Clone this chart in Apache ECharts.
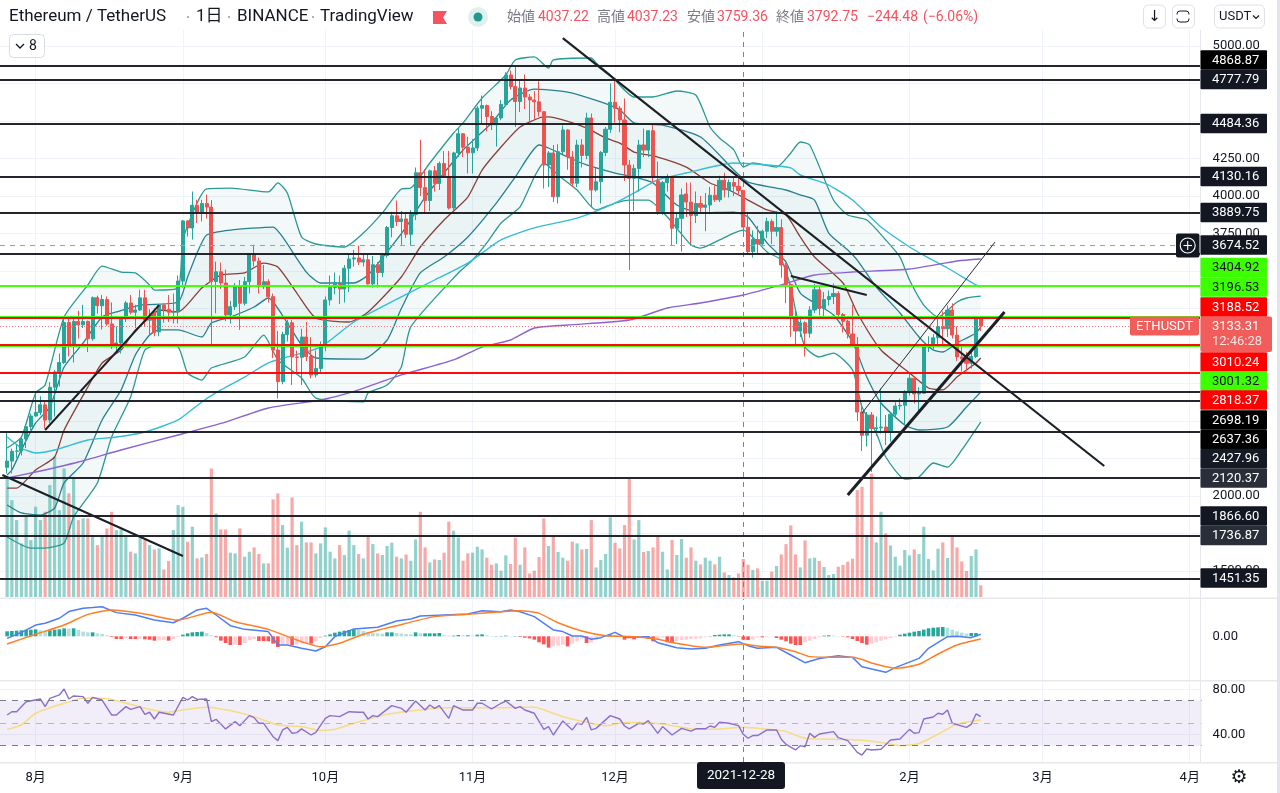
<!DOCTYPE html>
<html><head><meta charset="utf-8">
<style>html,body{margin:0;padding:0;background:#fff}#c{width:1280px;height:793px}</style>
<script src="https://cdn.jsdelivr.net/npm/echarts@6/dist/echarts.min.js"></script>
</head><body><div id="c"></div>
<script>
// dates: one leading empty day so the plot reaches the left edge
const startDate = '2021-07-25', dayCount = 253;
const blackLevels = [4868.87,4777.79,4484.36,4130.16,3889.75,3613,2698.19,2637.36,2427.96,2120.37,1866.60,1736.87,1451.35];
const greenLevels = [3404.92,3196.53,3001.32];
const redLevels = [3188.52,3010.24,2818.37];
const lastPrice = 3133.31, crossPrice = 3674.52, crossDate = '2021-12-28';
// [open, close, low, high] 2021-07-26 .. 2022-02-16
const ohlc = [
[2191,2233,2150,2429],[2233,2298,2150,2316],[2298,2300,2254,2344],[2300,2380,2270,2400],[2380,2462,2320,2470],[2462,2533,2440,2550],
[2533,2557,2530,2698],[2557,2608,2540,2665],[2608,2506,2450,2630],[2506,2725,2485,2760],[2725,2827,2530,2840],[2827,2890,2730,2950],
[2890,3157,2880,3180],[3157,3012,2930,3185],[3012,3163,2890,3185],[3163,3141,3050,3235],[3141,3164,3120,3275],[3164,3048,2960,3170],
[3048,3322,3035,3330],[3322,3268,3215,3335],[3268,3310,3110,3340],[3310,3147,3135,3330],[3147,3012,2980,3290],[3012,3020,2950,3130],
[3020,3182,2950,3188],[3182,3287,3160,3300],[3287,3225,3210,3340],[3225,3240,3120,3275],[3240,3321,3235,3375],[3321,3172,3130,3375],
[3172,3190,3080,3245],[3225,3090,3065,3250],[3094,3274,3065,3280],[3274,3244,3155,3285],[3244,3225,3160,3340],[3225,3228,3150,3350],
[3228,3433,3150,3470],[3433,3834,3390,3840],[3834,3787,3730,3840],[3787,3938,3710,4030],[3938,3888,3820,3975],[3888,3950,3830,3975],
[3950,3926,3850,4010],[3926,3430,3007,3973],[3430,3495,3218,3562],[3495,3420,3380,3556],[3420,3207,3165,3510],[3207,3262,3150,3300],
[3262,3400,3240,3420],[3400,3285,3107,3440],[3285,3429,3270,3460],[3429,3613,3350,3620],[3613,3567,3530,3675],[3567,3400,3350,3590],
[3400,3429,3380,3540],[3429,3329,3290,3445],[3329,2973,2920,3350],[2973,2762,2650,3100],[2762,3077,2745,3095],[3077,3155,3030,3175],
[3155,2927,2740,3175],[2927,2925,2815,2970],[2925,3060,2740,3115],[3060,2930,2900,3160],[2930,2807,2785,3060],[2807,2850,2790,2970],
[2850,3000,2820,3030],[3000,3307,2965,3330],[3307,3390,3270,3470],[3390,3417,3345,3490],[3417,3380,3280,3470],[3380,3518,3290,3540],
[3518,3580,3360,3620],[3580,3587,3530,3640],[3587,3560,3540,3670],[3560,3575,3530,3620],[3575,3414,3410,3610],[3414,3542,3390,3600],
[3542,3490,3390,3560],[3490,3604,3460,3620],[3604,3790,3590,3800],[3790,3868,3725,3895],[3868,3830,3800,3970],[3830,3847,3675,3900],
[3847,3745,3720,3890],[3745,3877,3670,3905],[3877,4155,3840,4190],[4155,4056,4000,4375],[4056,3970,3885,4180],[3970,4168,3900,4175],
[4168,4083,4030,4200],[4083,4217,4040,4230],[4217,4130,4120,4300],[4130,3920,3910,4300],[3920,4287,3905,4295],[4287,4415,4260,4460],
[4415,4325,4260,4420],[4325,4288,4150,4395],[4288,4320,4150,4380],[4320,4585,4300,4600],[4585,4603,4480,4670],[4603,4530,4430,4610],
[4530,4475,4440,4565],[4475,4520,4330,4530],[4520,4610,4505,4640],[4610,4807,4600,4825],[4807,4730,4710,4837],[4730,4630,4460,4868],
[4630,4720,4560,4780],[4720,4660,4580,4810],[4660,4640,4500,4680],[4640,4628,4510,4700],[4628,4562,4530,4765],[4562,4207,4050,4565],
[4207,4287,4060,4300],[4287,3995,3960,4340],[3995,4295,3950,4345],[4295,4440,4280,4470],[4440,4260,4175,4445],[4260,4085,4060,4300],
[4085,4340,4060,4375],[4340,4270,4190,4380],[4270,4520,4245,4555],[4520,4040,3925,4550],[4040,4095,4030,4190],[4095,4290,3950,4300],
[4290,4445,4265,4460],[4445,4625,4420,4750],[4625,4585,4490,4780],[4585,4507,4425,4600],[4507,4207,4100,4650],[4207,4118,3507,4240],
[4118,4184,3900,4210],[4184,4340,4030,4375],[4340,4306,4260,4450],[4306,4435,4260,4440],[4435,4130,4090,4484],[4102,3896,3875,4230],
[3896,4089,3875,4100],[4089,4130,4030,4145],[4130,3785,3673,4130],[3785,3851,3680,3885],[3851,4007,3630,4050],[4014,3960,3860,4090],
[3960,3870,3680,4090],[3870,3950,3820,4030],[3950,3925,3890,4000],[3925,3940,3765,4020],[3940,4005,3895,4060],[4005,3975,3960,4070],
[3975,4105,3960,4135],[4105,4040,3990,4155],[4040,4090,3990,4110],[4090,4065,4000,4120],[4065,4037,4010,4125],[4037.22,3792.75,3759.36,4037.23],
[3792,3629,3610,3880],[3629,3710,3590,3770],[3710,3680,3620,3800],[3680,3765,3675,3775],[3765,3830,3720,3855],[3830,3765,3680,3845],
[3765,3790,3730,3900],[3790,3540,3455,3845],[3540,3410,3285,3555],[3410,3195,3060,3415],[3195,3100,3000,3240],[3100,3155,3060,3200],
[3155,3085,2930,3165],[3085,3240,3055,3265],[3240,3375,3220,3415],[3375,3250,3205,3395],[3250,3310,3200,3360],[3310,3330,3270,3370],
[3330,3350,3280,3417],[3350,3210,3190,3365],[3210,3165,3090,3220],[3165,3080,3050,3175],[3080,3005,3000,3273],[3005,2560,2500,3060],
[2560,2405,2300,2620],[2405,2540,2330,2560],[2540,2450,2160,2560],[2450,2455,2400,2530],[2455,2460,2417,2717],[2460,2425,2340,2540],
[2425,2545,2362,2560],[2545,2600,2530,2625],[2600,2605,2575,2650],[2605,2690,2473,2705],[2690,2785,2670,2815],[2785,2680,2617,2800],
[2680,2685,2562,2725],[2685,2995,2680,3000],[2995,3005,2960,3065],[3005,3055,2975,3080],[3055,3130,3000,3190],[3130,3115,3010,3230],
[3115,3240,3060,3270],[3240,3073,3050,3285],[3073,2927,2900,3130],[2927,2915,2830,3010],[2915,2885,2830,2960],[2885,2930,2850,2975],
[2930,3184,2920,3190],[3184,3133.31,3100,3200]];
const volumes = [1202,969,769,536,803,569,902,769,852,1119,1402,869,1285,1036,1202,769,786,786,619,519,619,686,852,669,676,603,453,436,603,569,
519,476,486,276,360,669,919,902,553,703,386,396,430,1285,836,676,676,443,436,686,403,453,496,430,336,336,976,1036,719,493,
996,519,753,546,546,436,536,696,453,386,519,420,663,519,430,386,619,529,436,420,510,543,403,386,
426,363,576,852,496,346,376,370,443,753,663,596,363,436,443,503,476,393,323,336,263,416,330,593,323,496,236,263,400,786,
510,616,450,393,363,553,536,476,480,769,296,370,430,796,543,486,719,1185,576,769,450,460,496,603,453,276,569,420,579,393,496,363,
326,393,363,326,403,246,220,196,236,380,323,270,286,163,163,253,310,426,529,716,426,296,566,386,393,360,300,220,230,303,
320,353,383,1069,1102,619,1235,546,852,636,516,403,313,470,416,476,430,703,380,266,483,546,390,613,496,356,260,410,476,117];
// indicators: [day number, value]
const bbUpperOuter = [[0,2320],[3,2393],[6,2687],[8,2740],[12,3193],[17,3407],[20,3533],[24,3493],[27,3487],[30,3407],[31,3373],[36,3387],[37,3707],[40,3953],[42,4047],[47,4053],[55,4027],[57,4087],[59,4020],[62,3727],[65,3680],[71,3660],[75,3753],[79,3887],[83,4047],[85,4053],[89,4220],[94,4420],[96,4487],[100,4653],[105,4807],[107,4907],[111,4927],[114,4853],[115,4907],[123,4920],[124,4887],[127,4807],[132,4660],[136,4660],[141,4700],[145,4673],[148,4460],[150,4387],[153,4307],[155,4193],[157,4220],[162,4193],[165,4287],[167,4360],[169,4340],[174,3973],[177,3873],[181,3840],[185,3707],[188,3593],[190,3440],[193,3273],[196,3193],[200,3293],[202,3320],[205,3333]];
const bbUpperInner = [[0,2140],[1,2173],[3,2307],[6,2487],[9,2593],[12,2860],[16,3020],[20,3193],[23,3227],[28,3273],[36,3293],[38,3460],[40,3620],[42,3740],[47,3773],[56,3793],[58,3727],[63,3493],[66,3420],[73,3420],[76,3473],[80,3627],[84,3793],[88,3993],[93,4193],[96,4307],[102,4487],[106,4640],[111,4713],[118,4693],[125,4627],[129,4573],[132,4487],[138,4473],[146,4393],[153,4173],[156,4093],[164,4040],[167,4007],[170,3973],[173,3753],[177,3640],[179,3573],[183,3393],[188,3220],[192,3060],[195,2973],[197,2960],[200,3020],[204,3087],[205,3127]];
const bbBasis = [[0,2053],[2,2053],[6,2173],[10,2260],[12,2440],[17,2727],[20,2887],[24,2973],[27,3107],[30,3187],[32,3240],[36,3227],[41,3387],[45,3473],[50,3487],[54,3553],[57,3527],[61,3353],[65,3187],[72,3160],[76,3227],[83,3460],[87,3660],[92,3840],[97,3993],[100,4173],[104,4327],[108,4460],[112,4520],[114,4527],[117,4507],[122,4453],[126,4387],[129,4353],[132,4293],[137,4260],[143,4193],[148,4087],[152,4040],[156,3973],[160,3907],[164,3873],[167,3727],[170,3593],[176,3420],[179,3220],[184,2973],[190,2820],[194,2720],[197,2707],[200,2793],[204,2887],[205,2920]];
const bbLowerInner = [[0,1940],[3,1887],[7,1873],[10,1920],[12,2087],[16,2220],[20,2507],[24,2707],[27,2940],[30,3073],[32,3107],[36,3107],[41,3060],[43,3153],[47,3193],[52,3260],[55,3320],[59,3153],[62,3007],[65,2920],[75,2913],[80,3040],[83,3250],[87,3487],[92,3593],[97,3727],[103,3953],[107,4127],[112,4340],[114,4320],[118,4260],[122,4207],[128,4153],[132,4127],[136,4087],[141,3940],[146,3887],[153,3893],[156,3860],[160,3687],[163,3593],[164,3560],[167,3353],[170,3287],[174,3207],[178,3027],[181,2793],[184,2620],[189,2473],[192,2440],[198,2460],[202,2593],[205,2693]];
const bbLowerOuter = [[0,1727],[5,1653],[8,1653],[12,1687],[14,1860],[19,2087],[22,2393],[26,2660],[29,2973],[32,3007],[36,2993],[38,2820],[41,2773],[43,2853],[50,2927],[54,3073],[57,2907],[62,2787],[65,2653],[75,2627],[76,2687],[80,2740],[83,2860],[85,3127],[95,3487],[98,3573],[101,3687],[104,3820],[108,3927],[111,4127],[113,4220],[116,4140],[120,4040],[124,3907],[128,3953],[131,3973],[135,3973],[139,3860],[144,3673],[146,3653],[150,3707],[153,3753],[155,3773],[160,3627],[163,3573],[165,3393],[166,3240],[168,2993],[171,2927],[174,2953],[178,2840],[180,2593],[183,2420],[185,2260],[189,2113],[192,2127],[195,2220],[198,2193],[201,2307],[205,2493]];
const maCyan = [[0,2393],[3,2320],[6,2287],[10,2307],[17,2373],[23,2393],[29,2427],[36,2507],[41,2627],[45,2707],[50,2793],[55,2887],[59,2927],[66,2993],[73,3160],[83,3327],[90,3440],[97,3553],[104,3707],[111,3787],[120,3853],[128,3953],[132,4020],[137,4107],[143,4153],[153,4220],[160,4207],[165,4187],[167,4140],[173,4073],[178,3973],[184,3793],[190,3660],[194,3587],[198,3520],[204,3407],[205,3393]];
const maPurple = [[0,2120],[6,2160],[15,2227],[24,2307],[36,2407],[46,2493],[55,2587],[66,2640],[72,2687],[83,2807],[94,2907],[100,2993],[106,3040],[111,3120],[118,3140],[131,3173],[139,3253],[146,3287],[155,3340],[163,3407],[170,3473],[178,3493],[190,3513],[200,3567],[205,3580]];
const trendA = [[116.8,5053],[230.8,2200]], trendB = [[-0.8,2140],[36.8,1600]], trendC = [[8,2440],[32.2,3273]], trendD = [[164.5,3467],[180.8,3340]], trendE = [[180.2,2553],[207.7,3693]], trendF = [[177.1,2007],[209.8,3227]];
const macdLine = [[0,-14],[3,27],[6,76],[8,88],[11,122],[13,167],[16,189],[18,194],[20,200],[23,160],[27,144],[31,110],[35,92],[37,122],[40,178],[42,189],[44,144],[47,72],[50,47],[55,32],[57,-58],[59,-58],[62,-81],[65,-99],[67,-70],[69,-2],[73,50],[78,61],[82,104],[85,117],[87,137],[92,144],[97,151],[100,173],[104,166],[106,178],[108,166],[111,133],[115,43],[117,32],[119,2],[121,2],[123,-20],[125,-9],[128,27],[130,-7],[135,-2],[137,-43],[141,-77],[144,-86],[147,-81],[150,-58],[154,-36],[156,-63],[158,-81],[162,-74],[165,-126],[168,-178],[171,-149],[175,-131],[178,-142],[180,-205],[185,-243],[187,-211],[192,-149],[194,-81],[198,-2],[200,0],[203,-9],[205,14]];
const macdSignal = [[0,-52],[6,14],[12,77],[17,148],[22,178],[29,151],[36,110],[43,162],[48,99],[55,47],[61,-25],[66,-70],[70,-47],[75,14],[82,72],[90,133],[97,149],[104,166],[108,173],[112,155],[116,92],[121,36],[126,4],[132,-2],[137,-20],[141,-47],[147,-74],[150,-65],[155,-52],[158,-65],[162,-74],[166,-104],[169,-137],[174,-142],[178,-142],[183,-189],[187,-216],[192,-189],[196,-119],[200,-58],[205,-18]];
const macdHist = [15,16,17,18,19,20,21,18,17,18,20,21,24,23,24,20,14,12,12,9,7,3,-2,-8,-8,-6,-8,-8,-7,-9,-10,-13,-12,-11,-13,-8,-2,5,9,12,13,14,10,3,-3,-13,-20,-26,-25,-26,-20,-12,-8,-14,-14,-15,-22,-32,-26,-24,-26,-24,-22,-20,-22,-15,-5,2,6,11,14,17,19,21,20,16,11,10,9,8,12,12,10,8,7,6,12,9,9,9,9,10,3,2,2,4,3,3,2,5,6,3,1,1,1,2,1,1,-2,-4,-6,-10,-18,-24,-34,-30,-28,-25,-30,-22,-15,-7,-20,-19,-10,-3,3,5,4,-2,-10,-8,-9,-4,-3,-8,-15,-8,-4,-18,-18,-14,-11,-10,-8,-7,-6,-3,1,4,5,6,6,3,-1,-10,-11,-10,-3,-3,-2,-1,-5,-10,-15,-22,-26,-26,-18,-13,-8,-3,2,3,2,1,-1,-3,-8,-14,-20,-25,-22,-18,-13,-9,-5,-2,5,8,11,14,16,20,24,26,27,28,26,20,15,11,8,10,10];
const rsiLine = [[0,57.3],[1,60.2],[2,60.2],[4,69.1],[7,71.5],[8,64.7],[9,72.1],[11,75.1],[12,80.4],[13,71.5],[14,74.2],[16,73.6],[17,67.7],[18,73],[20,70.6],[22,57.3],[23,57.3],[25,64.7],[26,62.3],[28,64.7],[29,57.9],[30,59.7],[31,53.7],[32,59.7],[35,57.3],[37,73],[38,70.6],[39,73.6],[40,71.2],[42,71.5],[43,51.4],[44,53.4],[46,44.9],[48,51.4],[49,47.8],[51,56.7],[52,54.9],[53,49.9],[54,49.9],[56,38],[57,34.5],[58,44],[59,46.3],[60,41],[61,41.6],[62,44.9],[64,39.5],[65,41.9],[67,54.3],[68,56.7],[70,55.8],[72,60.2],[74,59.7],[75,59.7],[76,53.7],[77,56.7],[78,55.8],[81,65.6],[83,63.2],[84,59.7],[86,69.7],[88,61.7],[89,66.2],[90,63.2],[91,65.6],[93,54.3],[94,65.6],[96,61.7],[98,61.7],[99,67.7],[100,67.7],[102,62.6],[104,67.7],[105,69.7],[107,63.2],[108,64.7],[109,61.7],[111,58.8],[113,44.5],[114,46.9],[115,39.5],[117,52],[119,44],[120,49.9],[121,49],[122,55.2],[123,44],[124,45.4],[127,56.7],[129,53.7],[130,47.5],[131,44.9],[133,49.9],[134,49.3],[135,52.3],[137,41],[138,47],[140,39.5],[142,45.4],[144,43],[145,45],[147,45],[148,47.5],[149,46.3],[150,50.8],[152,49.9],[154,47.8],[155,40.1],[156,36.6],[157,39],[158,39],[160,44],[162,44],[163,35.7],[164,31.2],[166,26.2],[167,30],[168,29.1],[169,41],[170,37.4],[171,40.4],[174,42.5],[175,37.1],[177,34.5],[179,24.1],[180,21.7],[181,27],[182,26.2],[184,26.8],[186,35],[188,36],[190,44.5],[191,41],[192,41.6],[193,53.7],[195,55.5],[196,58.8],[197,57.9],[198,61.7],[199,49.9],[202,46.3],[203,49],[204,58.2],[205,55.8]];
const rsiAverage = [[0,44.6],[3,48.4],[6,58.8],[12,67.7],[16,72.1],[20,72.1],[24,69.1],[29,63.2],[34,59.7],[37,61.7],[42,64.1],[48,60.2],[52,55.8],[57,48.4],[62,47],[66,43.4],[69,44.6],[73,49.9],[80,57.9],[85,60.8],[92,63.8],[99,63.8],[104,63.8],[108,64.1],[111,64.1],[115,58.8],[117,55.8],[122,50.8],[126,47.8],[130,50.5],[138,49.3],[144,44.9],[149,44.6],[155,46.3],[160,44.6],[164,42.5],[168,36.6],[177,35.4],[183,33.6],[188,30],[192,32],[197,42.5],[200,49.3],[205,52.9]];
const priceTicks = [1500,1750,2000,2250,2500,2750,3000,3250,3500,3750,4000,4250,4500,4750,5000];
const priceLabels = [1500,2000,3750,4000,4250,5000];
const rsiTicks = [40,80], monthFirsts = ['08-01','09-01','10-01','11-01','12-01','01-01','02-01','03-01','04-01'];
const priceTags = [[60,'4868.87','#000','#fff'],[79.5,'4777.79','#131722','#fff'],[123.5,'4484.36','#131722','#fff'],[176.5,'4130.16','#131722','#fff'],[212.5,'3889.75','#131722','#fff'],[245,'3674.52','#131722','#fff'],[267.5,'3404.92','#3cff00','#131722'],[287,'3196.53','#3cff00','#131722'],[307,'3188.52','#ff0000','#fff'],[362,'3010.24','#ff0000','#fff'],[381,'3001.32','#3cff00','#131722'],[400,'2818.37','#ff0000','#fff'],[420,'2698.19','#000','#fff'],[439.5,'2637.36','#000','#fff'],[458.5,'2427.96','#161a25','#fff'],[478,'2120.37','#2a2e39','#fff'],[516,'1866.60','#131722','#fff'],[535.5,'1736.87','#2a2e39','#fff'],[578,'1451.35','#131722','#fff']];

const FONT = 'Roboto';
const UP = '#26a69a', DOWN = '#ef5350';
const pad2 = n => String(n).padStart(2,'0');
const categories = [];
{ const d = new Date(startDate+'T00:00:00Z');
  for (let i=0;i<dayCount;i++){ categories.push(d.getUTCFullYear()+'-'+pad2(d.getUTCMonth()+1)+'-'+pad2(d.getUTCDate())); d.setUTCDate(d.getUTCDate()+1);} }
const isMonth = (idx,val)=> monthFirsts.includes(val.slice(5));
const pts = a => a.map(([i,v])=>[i+1,v]);
const line = (name,a,color,width,extra,axis) => Object.assign({type:'line',name,data:pts(a),xAxisIndex:axis?axis[0]:0,yAxisIndex:axis?axis[1]:0,showSymbol:false,symbol:'none',silent:true,lineStyle:{color,width},z:3,animation:false},extra||{});
const band = (upper,lower,fill)=>({type:'custom',xAxisIndex:0,yAxisIndex:0,silent:true,z:1,data:[[upper[0][0]+1,upper[0][1]]],encode:{x:0,y:1},clip:true,
  renderItem:(p,api)=>({type:'polygon',shape:{points:upper.concat(lower.slice().reverse()).map(([i,v])=>api.coord([i+1,v]))},style:{fill},silent:true})});
const trend = (a,width,color)=>line('trend',a,color||'#1d1f27',width,{z:7});
const hl = (vals,color,width)=>({type:'line',data:[],xAxisIndex:0,yAxisIndex:0,z:6,silent:true,markLine:{silent:true,symbol:'none',z:6,animation:false,label:{show:false},lineStyle:{color,width,type:'solid',opacity:.95},data:vals.map(v=>({yAxis:v}))}});
const vCross = (xi,yi)=>({type:'line',data:[],xAxisIndex:xi,yAxisIndex:yi,z:8,silent:true,markLine:{silent:true,symbol:'none',animation:false,label:{show:false},lineStyle:{color:'#758696',width:1,type:[5,5]},data:[{xAxis:crossDate}]}});

const gridLineColor = '#f0f3fa';
const xBase = {type:'category',data:categories,boundaryGap:true,axisLine:{show:false},axisTick:{show:false},
  splitLine:{show:true,alignWithLabel:true,interval:isMonth,lineStyle:{color:gridLineColor,width:1}},axisLabel:{show:false}};
const L = -3.44, W = 253*4.763;

const T = (x,y,text,color,size,extra)=>({type:'text',x,y,z:100,silent:true,style:Object.assign({text,fill:color,font:(size||14)+'px '+FONT+', "Noto Sans CJK JP"',textVerticalAlign:'middle'},extra||{})});
const R = (x,y,w,h,fill,r,stroke)=>({type:'rect',x,y,z:99,silent:true,shape:{x:0,y:0,width:w,height:h,r:r||0},style:{fill:fill||'#fff',stroke:stroke||null,lineWidth:stroke?1:0}});
const G = [];
// pane separators, right strip
G.push(R(0,597.5,1277,1.5,'#e6e8ee'),R(0,680,1277,1.5,'#e6e8ee'),R(0,762,1277,1.5,'#e6e8ee'),R(1200,30,1,733,'#e6e8ee'),R(1277,0,3,793,'#e3e5ee'));
// header
G.push(R(0,0,1277,29,'#fff'));
G.push(T(9,17,'Ethereum / TetherUS','#131722',17),T(196,17,'1日','#131722',17),T(237,17,'BINANCE','#131722',17),T(320,17,'TradingView','#131722',17));
[188,229,313].forEach(x=>G.push({type:'circle',z:100,silent:true,shape:{cx:x,cy:17,r:1},style:{fill:'#9598a1'}}));
G.push({type:'polygon',z:100,silent:true,shape:{points:[[433,11],[447,11],[443,17.5],[447,24],[433,24]]},style:{fill:'#f7525f'}});
G.push({type:'circle',z:100,silent:true,shape:{cx:478,cy:17,r:10},style:{fill:'#dff1ef'}},{type:'circle',z:100,silent:true,shape:{cx:478,cy:17,r:4.5},style:{fill:'#1f9a8c'}});
const GR='#787b86', RD='#f7525f';
G.push(T(507,17,'始値',GR),T(538,17,'4037.22',RD),T(597,17,'高値',GR),T(627,17,'4037.23',RD),T(687,17,'安値',GR),T(717,17,'3759.36',RD),T(776,17,'終値',GR),T(807,17,'3792.75',RD),T(867,17,'−244.48',RD),T(923,17,'(−6.06%)',RD));
// legend toggle
G.push(R(9.5,34.5,35,23,'#fff',4,'#d9dce5'),{type:'polyline',z:100,silent:true,shape:{points:[[16,44],[20,48],[24,44]]},style:{stroke:'#131722',lineWidth:1.3,fill:null}},T(29,46,'8','#131722',14));
// buttons
G.push(R(1143.5,5,22,23,'#fff',5,'#dfe1e8'),T(1154.5,17,'↓','#131722',15,{textAlign:'center',font:'15px "DejaVu Sans"'}));
G.push(R(1172.5,5,22,23,'#fff',5,'#dfe1e8'),R(1177,11,12,11,'#fff',3,'#131722'),R(1175,14.5,16,4,'#fff'));
G.push(R(1207,0,62,30,'#fff'),R(1214.5,5,50,23,'#fff',5,'#dfe1e8'),T(1219,17,'USDT','#131722',13),{type:'polyline',z:100,silent:true,shape:{points:[[1253,15.5],[1256,18.5],[1259,15.5]]},style:{stroke:'#131722',lineWidth:1.2,fill:null}});
// price tags
priceTags.forEach(([y,t,bg,fg])=>{G.push(R(1200.5,y-9.7,66.5,19.4,bg,1),T(1212,y+.5,t,fg,13));});
// current price tag + symbol
G.push(R(1130,316.5,69,19,'#f05d5a',2),T(1164.5,326.5,'ETHUSDT','#fff',13,{textAlign:'center'}));
G.push(R(1200.5,316.5,71.5,35.5,'#f05d5a',2),T(1212,326.5,'3133.31','#fff',13),T(1212,342,'12:46:28','#fde0df',13));
// crosshair add button
G.push(R(1176,233.5,23.5,24,'#131722',2),{type:'circle',z:101,silent:true,shape:{cx:1187.7,cy:245.5,r:7.5},style:{fill:null,stroke:'#fff',lineWidth:1.1}},
 {type:'line',z:101,silent:true,shape:{x1:1183.5,y1:245.5,x2:1192,y2:245.5},style:{stroke:'#fff',lineWidth:1.1}},{type:'line',z:101,silent:true,shape:{x1:1187.7,y1:241,x2:1187.7,y2:250},style:{stroke:'#fff',lineWidth:1.1}});
// date tag, gear
G.push(R(697,762,88,27,'#131722',3),T(741,776,crossDate,'#fff',13.5,{textAlign:'center'}));
G.push(T(1239,778,'⚙','#131722',19,{textAlign:'center',font:'19px "DejaVu Sans"'}));

const chart = echarts.init(document.getElementById('c'),null,{renderer:'canvas',width:1280,height:793});
chart.setOption({
  animation:false,backgroundColor:'#fff',
  textStyle:{fontFamily:FONT},
  grid:[{left:L,width:W,top:30,height:567},{left:L,width:W,top:599,height:81},{left:L,width:W,top:682,height:80}],
  xAxis:[Object.assign({},xBase,{gridIndex:0}),Object.assign({},xBase,{gridIndex:1}),
    Object.assign({},xBase,{gridIndex:2,axisLabel:{show:true,interval:isMonth,margin:9,fontSize:13,color:'#131722',fontFamily:FONT+', "Noto Sans CJK JP"',formatter:v=>parseInt(v.slice(5,7),10)+'月'}})],
  yAxis:[
    {type:'value',gridIndex:0,position:'right',min:1326.67,max:5106.67,axisLine:{show:false},axisTick:{show:false,customValues:priceTicks},
      splitLine:{show:true,lineStyle:{color:gridLineColor}},axisLabel:{show:true,customValues:priceLabels,margin:11,fontSize:13,color:'#131722',formatter:v=>v.toFixed(2)}},
    {type:'value',gridIndex:0,min:0,max:5670,show:false,splitLine:{show:false}},
    {type:'value',gridIndex:1,position:'right',min:-294.75,max:252,axisLine:{show:false},axisTick:{show:false,customValues:[0]},splitLine:{show:false},
      axisLabel:{show:true,customValues:[0],margin:11,fontSize:13,color:'#131722',formatter:v=>v.toFixed(2)}},
    {type:'value',gridIndex:1,min:-131,max:112,show:false,splitLine:{show:false}},
    {type:'value',gridIndex:2,position:'right',min:15.5,max:86.6,axisLine:{show:false},axisTick:{show:false,customValues:rsiTicks},splitLine:{show:true,lineStyle:{color:gridLineColor}},
      axisLabel:{show:true,customValues:rsiTicks,margin:11,fontSize:13,color:'#131722',formatter:v=>v.toFixed(2)}}
  ],
  series:[
    band(bbUpperOuter,bbLowerOuter,'rgba(38,140,140,0.055)'),
    band(bbUpperInner,bbLowerInner,'rgba(38,140,140,0.045)'),
    {type:'bar',xAxisIndex:0,yAxisIndex:1,barWidth:3.2,silent:true,z:2,data:volumes.map((v,i)=>({value:[i+1,v],itemStyle:{color:ohlc[i][1]>=ohlc[i][0]?'rgba(38,166,154,.5)':'rgba(239,83,80,.5)'}}))},
    line('bbUO',bbUpperOuter,'#2a9a90',1.3,{smooth:.2}),
    line('bbLO',bbLowerOuter,'#2a9a90',1.3,{smooth:.2}),
    line('bbUI',bbUpperInner,'#26808f',1.3,{smooth:.2}),
    line('bbLI',bbLowerInner,'#26808f',1.3,{smooth:.2}),
    line('basis',bbBasis,'#8a3f38',1.3,{smooth:.2}),
    line('cyan',maCyan,'#35bcd6',1.4,{smooth:.2}),
    line('purple',maPurple,'#8a63d2',1.4,{smooth:.2}),
    {type:'candlestick',xAxisIndex:0,yAxisIndex:0,barWidth:3.6,silent:true,z:4,encode:{x:0,y:[1,2,3,4]},
      data:ohlc.map((r,i)=>[i+1,r[0],r[1],r[2],r[3]]),
      itemStyle:{color:UP,color0:DOWN,borderColor:UP,borderColor0:DOWN,borderWidth:1}},
    hl(blackLevels,'#181a22',2),
    hl(greenLevels,'#3cff00',2.2),
    hl(redLevels,'#ff0000',2),
    {type:'line',data:[],xAxisIndex:0,yAxisIndex:0,z:6,silent:true,markLine:{silent:true,symbol:'none',animation:false,label:{show:false},data:[
      {yAxis:lastPrice,lineStyle:{color:'#f4777a',width:1,type:[1,2]}},
      {yAxis:crossPrice,lineStyle:{color:'#9a9ea8',width:1,type:[5,5]}}]}},
    trend(trendA,2.2),trend(trendB,2),trend(trendC,2),trend(trendD,2),trend(trendE,1,'#2a2e39'),trend(trendF,3),
    vCross(0,0),vCross(1,2),vCross(2,4),
    {type:'bar',xAxisIndex:1,yAxisIndex:3,barWidth:3.6,silent:true,z:2,data:macdHist.map((h,i)=>{const p=i?macdHist[i-1]:h;
      const c=h>=0?(h>=p?'#26a69a':'#b2dfdb'):(h<=p?'#ff5252':'#ffcdd2');return {value:[i+1,h],itemStyle:{color:c}};})},
    line('macd',macdLine,'#4f7df5',1.5,{z:3},[1,2]),
    line('signal',macdSignal,'#ff7f27',1.5,{z:4,smooth:.2},[1,2]),
    {type:'line',data:[],xAxisIndex:2,yAxisIndex:4,z:1,silent:true,
      markArea:{silent:true,animation:false,itemStyle:{color:'rgba(126,87,194,0.1)'},data:[[{yAxis:70},{yAxis:30}]]},
      markLine:{silent:true,symbol:'none',animation:false,label:{show:false},lineStyle:{color:'#787b86',width:1,type:[6,6]},data:[{yAxis:70},{yAxis:30},{yAxis:50,lineStyle:{color:'#b5b8c0',width:1,type:[6,6]}}]}},
    line('rsi',rsiLine,'#8c6fc9',1.4,{z:3},[2,4]),
    line('rsiMa',rsiAverage,'#f6dc82',1.5,{z:2,smooth:.2},[2,4])
  ],
  graphic:{elements:G}
});
</script></body></html>
